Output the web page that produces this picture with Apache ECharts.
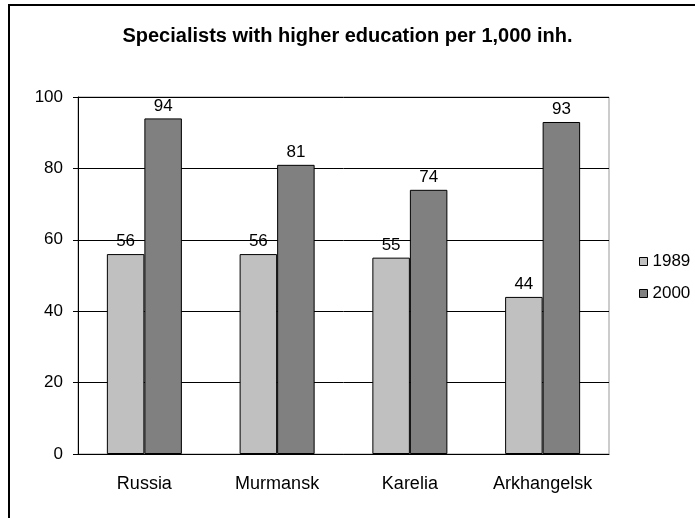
<!DOCTYPE html>
<html>
<head>
<meta charset="utf-8">
<script src="https://cdn.jsdelivr.net/npm/echarts@6/dist/echarts.min.js"></script>
<style>
  html, body { margin: 0; padding: 0; background: #fff; }
  #chart { width: 695px; height: 518px; }
</style>
</head>
<body>
<div id="chart"></div>
<script>
const categories = ['Russia', 'Murmansk', 'Karelia', 'Arkhangelsk']
const values1989 = [56, 56, 55, 44]
const values2000 = [94, 81, 74, 93]
const yTicks = [0, 20, 40, 60, 80, 100]

const font = 'Liberation Sans, Arial, sans-serif'
const chart = echarts.init(document.getElementById('chart'))

chart.setOption({
  animation: false,
  backgroundColor: '#fff',
  textStyle: { fontFamily: font, color: '#000' },
  graphic: [
    {
      type: 'rect',
      shape: { x: 9, y: 5, width: 720, height: 540 },
      style: { fill: 'none', stroke: '#000', lineWidth: 2 }
    }
  ],
  title: {
    text: 'Specialists with higher education per 1,000 inh.',
    left: 'center',
    top: 21,
    textStyle: { fontFamily: font, fontSize: 20, fontWeight: 'bold', color: '#000' }
  },
  legend: {
    orient: 'vertical',
    left: 634,
    top: 248,
    itemWidth: 8,
    itemHeight: 8,
    itemGap: 15,
    icon: 'rect',
    itemStyle: { borderColor: '#000', borderWidth: 1 },
    textStyle: { fontFamily: font, fontSize: 17, color: '#000' },
    data: ['1989', '2000']
  },
  grid: {
    left: 78,
    right: 86,
    top: 97,
    bottom: 64,
    show: true,
    borderColor: '#999',
    borderWidth: 1
  },
  xAxis: {
    type: 'category',
    data: categories,
    axisLine: { lineStyle: { color: '#000' } },
    axisTick: { length: 5, lineStyle: { color: '#000' } },
    axisLabel: { interval: 0, margin: 21, fontSize: 18, color: '#000', fontFamily: font }
  },
  yAxis: {
    type: 'value',
    min: yTicks[0],
    max: yTicks[yTicks.length - 1],
    interval: yTicks[1] - yTicks[0],
    axisLine: { show: true, lineStyle: { color: '#000' } },
    axisTick: { show: true, length: 5, lineStyle: { color: '#000' } },
    axisLabel: { margin: 15, fontSize: 17, color: '#000', fontFamily: font },
    splitLine: { lineStyle: { color: '#000', width: 1 } }
  },
  series: [
    {
      name: '1989',
      type: 'bar',
      data: values1989,
      barGap: '0%',
      barCategoryGap: '43.5%',
      itemStyle: { color: '#c0c0c0', borderColor: '#000', borderWidth: 1 },
      label: { show: true, position: 'top', distance: 4, fontSize: 17, color: '#000', fontFamily: font }
    },
    {
      name: '2000',
      type: 'bar',
      data: values2000,
      itemStyle: { color: '#808080', borderColor: '#000', borderWidth: 1 },
      label: { show: true, position: 'top', distance: 4, fontSize: 17, color: '#000', fontFamily: font }
    }
  ]
})
</script>
</body>
</html>
